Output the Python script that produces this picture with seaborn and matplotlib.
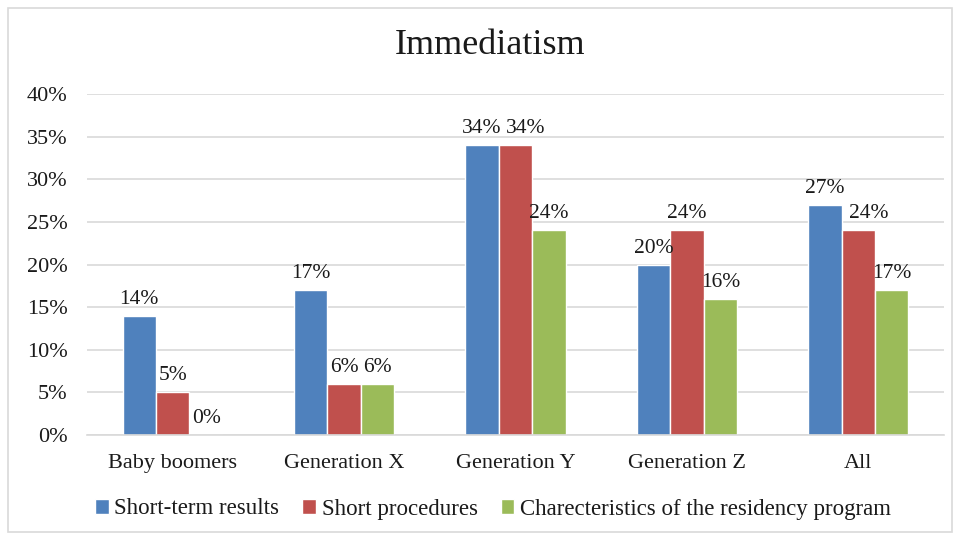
import matplotlib
matplotlib.use("Agg")
import pandas as pd
import seaborn as sns
from matplotlib import pyplot as plt
from matplotlib.patches import Rectangle

categories = ["Baby boomers", "Generation X", "Generation Y", "Generation Z", "All"]
series = ["Short-term results", "Short procedures", "Charecteristics of the residency program"]
short_term = [14, 17, 34, 20, 27]
short_proc = [5, 6, 34, 24, 24]
residency = [0, 6, 24, 16, 17]
y_ticks = [0, 5, 10, 15, 20, 25, 30, 35, 40]
colors = ["#4F81BD", "#C0504D", "#9BBB59"]

df = pd.DataFrame({
    "group": categories * 3,
    "series": [series[0]] * 5 + [series[1]] * 5 + [series[2]] * 5,
    "value": short_term + short_proc + residency,
})

sns.set_theme(style="white")
plt.rcParams["font.family"] = ["Liberation Serif", "DejaVu Serif"]

fig = plt.figure(figsize=(9.55, 5.36), dpi=100)
ax = fig.add_axes([0.0911, 0.1884, 0.8974, 0.6362])

sns.barplot(data=df, x="group", y="value", hue="series", order=categories,
            hue_order=series, palette=colors, width=0.585, gap=0,
            saturation=1, ax=ax, legend=True)

label_sets = []
for cont in ax.containers:
    texts = ax.bar_label(cont, labels=[f"{int(v)}%" for v in cont.datavalues],
                         padding=5, fontsize=15.5, color="#1a1a1a")
    label_sets.append(texts)

ax.set_ylim(0, 40)
ax.set_yticks(y_ticks)
ax.set_yticklabels([f"{t}%" for t in y_ticks], fontsize=16, color="#1a1a1a")
ax.tick_params(axis="x", labelsize=16, pad=14, length=0, labelcolor="#1a1a1a")
ax.tick_params(axis="y", pad=14, length=0)
ax.set_xlabel("")
ax.set_ylabel("")
ax.yaxis.grid(True, color="#d9d9d9", linewidth=1.2)
ax.set_axisbelow(True)
for s in ["left", "right", "top"]:
    ax.spines[s].set_visible(False)
ax.spines["bottom"].set_color("#d9d9d9")
ax.spines["bottom"].set_linewidth(1.2)

fig.text(490 / 955, 1 - 46 / 536, "Immediatism", fontsize=26, ha="center",
         va="center", color="#1a1a1a")

ax.legend(loc="center", bbox_to_anchor=(493 / 955, 27 / 536),
          bbox_transform=fig.transFigure, ncol=3, frameon=False,
          fontsize=16.5, handlelength=0.6, handleheight=0.6, handletextpad=0.25,
          columnspacing=1.0, labelcolor="#1a1a1a")

# nudge labels that collide with the neighbour label to the right (like Excel does)
fig.canvas.draw()
renderer = fig.canvas.get_renderer()
for i in range(len(categories)):
    prev = None
    for texts in label_sets:
        t = texts[i]
        bb = t.get_window_extent(renderer)
        if prev is not None:
            v_close = bb.y0 < prev.y1 + 14 and bb.y1 > prev.y0 - 14
            if v_close and bb.x0 < prev.x1 + 4:
                shift = prev.x1 + 4 - bb.x0
                ox, oy = t.xyann
                t.xyann = (ox + shift * 72 / fig.dpi, oy)
                bb = t.get_window_extent(renderer)
        prev = bb

fig.patches.append(Rectangle((8 / 955, 4 / 536), 944 / 955, 524 / 536,
                             transform=fig.transFigure, fill=False,
                             edgecolor="#d9d9d9", linewidth=1.2))

fig.savefig("out.png", dpi=100)
